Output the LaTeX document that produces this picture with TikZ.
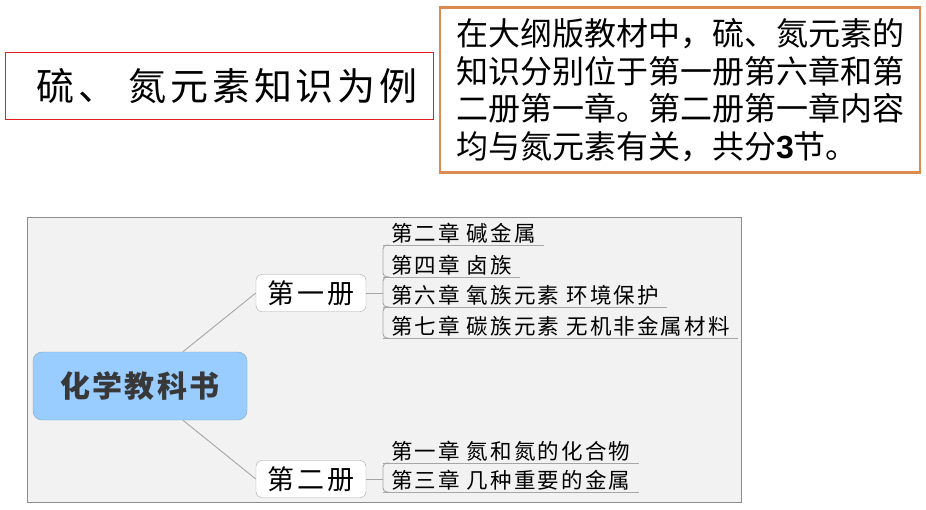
\documentclass[tikz,border=0pt]{standalone}
\usepackage{fontspec}
\setmainfont{Noto Sans CJK SC}
\newfontfamily\arialfont{Liberation Sans}
\usetikzlibrary{positioning,calc}

\definecolor{panelgray}{HTML}{F2F2F2}
\definecolor{framegray}{HTML}{8C8C8C}
\definecolor{linegray}{HTML}{A6A6A6}
\definecolor{rootblue}{HTML}{99CCFF}
\definecolor{rootedge}{HTML}{8CA6BF}
\definecolor{textdark}{HTML}{383838}
\definecolor{notebrown}{HTML}{DD8A4F}
\definecolor{titlered}{HTML}{E02020}

\newcommand{\spaced}[1]{\addfontfeature{LetterSpace=#1}}

\tikzset{
  titlebox/.style={draw=titlered, line width=0.8pt, minimum width=428pt, minimum height=67pt,
    font=\fontsize{38}{44}\selectfont\spaced{10}},
  notebox/.style={draw=notebrown, line width=2.5pt, minimum width=480pt, minimum height=165pt,
    align=left, font=\fontsize{32}{37.5}\selectfont},
  rootbox/.style={draw=rootedge, fill=rootblue, rounded corners=9pt, minimum width=214pt,
    minimum height=68pt, text=textdark, font=\fontsize{30}{34}\selectfont\bfseries\spaced{8}},
  bookbox/.style={draw=linegray, fill=white, rounded corners=6pt, minimum width=110pt,
    minimum height=37pt, font=\fontsize{27}{32}\selectfont\spaced{12}},
  chap/.style={anchor=south west, inner xsep=8pt, inner ysep=1.5pt,
    font=\fontsize{21.5}{24}\selectfont\spaced{10}},
  link/.style={draw=linegray, line width=0.9pt},
}

\begin{document}
\begin{tikzpicture}[x=1pt, y=-1pt]
    \useasboundingbox (0,0) rectangle (926,509);

    % Titolo e riquadro di nota
    \node[titlebox] (title) at (219,86) {\hspace{16pt}硫、 氮元素知识为例};
    \node[notebox] (note) at (680,90) {在大纲版教材中，硫、氮元素的\\
      知识分别位于第一册第六章和第\\
      二册第一章。第二册第一章内容\\
      均与氮元素有关，共分{\arialfont\bfseries 3}节。};

    % Sfondo della mappa
    \filldraw[fill=panelgray, draw=framegray, line width=0.8pt] (27,217) rectangle (741,502);

    % Nodo centrale e volumi
    \node[rootbox] (root) at (140,386) {化学教科书};
    \node[bookbox] (book1) at (311,293) {第一册};
    \node[bookbox] (book2) at (311,479) {第二册};
    \draw[link] ($(root.north)!0.4!(root.north east)$) -- (book1.west);
    \draw[link] ($(root.south)!0.4!(root.south east)$) -- (book2.west);

    % Capitoli del primo volume
    \foreach \i/\y/\txt in {1/245/第二章 碱金属, 2/277/第四章 卤族,
        3/307/第六章 氧族元素 环境保护, 4/338/第七章 碳族元素 无机非金属材料} {
        \node[chap] (ch\i) at (383,\y) {\txt};
        \draw[link] (ch\i.south west) -- (ch\i.south east);
    }
    \foreach \i [count=\j from 2] in {1,2,3} {
        \draw[link, rounded corners=4pt] ($(ch\i.south west)+(6,0)$) -- (ch\i.south west)
            -- (ch\j.south west) -- ($(ch\j.south west)+(6,0)$);
    }
    \draw[link] (book1.east) -- (book1.east -| ch1.south west);

    % Capitoli del secondo volume
    \node[chap] (ch5) at (383,463) {第一章 氮和氮的化合物};
    \node[chap] (ch6) at (383,492) {第三章 几种重要的金属};
    \draw[link] (ch5.south west) -- (ch5.south east);
    \draw[link] (ch6.south west) -- (ch6.south east);
    \draw[link, rounded corners=4pt] ($(ch5.south west)+(6,0)$) -- (ch5.south west)
        -- (ch6.south west) -- ($(ch6.south west)+(6,0)$);
    \draw[link] (book2.east) -- (book2.east -| ch5.south west);
\end{tikzpicture}
\end{document}
